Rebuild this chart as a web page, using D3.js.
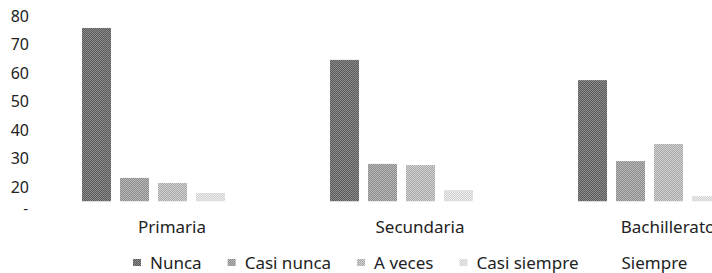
<!DOCTYPE html>
<html>
<head>
<meta charset="utf-8">
<script src="https://cdn.jsdelivr.net/npm/d3@7/dist/d3.min.js"></script>
<style>
  body { margin: 0; background: #fff; }
  svg { display: block; }
  text { font-family: "Noto Sans", sans-serif; fill: #222; }
</style>
</head>
<body>
<div id="chart"></div>
<script>
var categories = ["Primaria", "Secundaria", "Bachillerato"];
var series = ["Nunca", "Casi nunca", "A veces", "Casi siempre", "Siempre"];
var nunca = [75.8, 64.6, 57.5];
var casiNunca = [23.2, 28.1, 29.1];
var aVeces = [21.4, 27.7, 35.1];
var casiSiempre = [17.9, 18.9, 16.8];
var siempre = [15.0, 15.0, 15.0];
var yTicks = [20, 30, 40, 50, 60, 70, 80];
var baseValue = 15;
var baseLabel = "-";

var values = [nunca, casiNunca, aVeces, casiSiempre, siempre];

var width = 712, height = 273;
var svg = d3.select("#chart").append("svg")
    .attr("width", width)
    .attr("height", height);

// dithered grey fills, dark to light
var shades = [
  ["#5a5a5a", "#8c8c8c"],
  ["#8c8c8c", "#b8b8b8"],
  ["#a8a8a8", "#d2d2d2"],
  ["#d0d0d0", "#eeeeee"],
  ["#ffffff", "#ffffff"]
];
var defs = svg.append("defs");
shades.forEach(function (s, i) {
  var p = defs.append("pattern")
      .attr("id", "fill" + i)
      .attr("width", 2).attr("height", 2)
      .attr("patternUnits", "userSpaceOnUse");
  p.append("rect").attr("width", 2).attr("height", 2).attr("fill", s[0]);
  p.append("rect").attr("width", 1).attr("height", 1).attr("fill", s[1]);
  p.append("rect").attr("x", 1).attr("y", 1).attr("width", 1).attr("height", 1).attr("fill", s[1]);
});

var y = d3.scaleLinear().domain([10, 80]).range([215.5, 16]);
var x0 = d3.scaleBand().domain(categories).range([48, 792]);
var x1 = d3.scaleBand().domain(series).range([34, 215]).paddingInner(0.237);

// y axis labels
var yAxis = svg.append("g").attr("transform", "translate(29,0)")
    .call(d3.axisLeft(y).tickValues(yTicks).tickSize(0).tickPadding(0));
yAxis.select(".domain").remove();
yAxis.selectAll("text")
    .style("font-size", "16px")
    .attr("fill", "#222");
svg.append("text")
    .attr("x", 28).attr("y", y(baseValue) + 8)
    .attr("dy", "0.32em")
    .attr("text-anchor", "end")
    .style("font-size", "15px")
    .text(baseLabel);

// bars
var groups = svg.append("g").selectAll("g")
  .data(categories)
  .join("g")
    .attr("transform", function (d) { return "translate(" + x0(d) + ",0)"; });

groups.selectAll("rect")
  .data(function (c, ci) {
    return series.map(function (s, si) { return { s: s, i: si, v: values[si][ci] }; });
  })
  .join("rect")
    .attr("x", function (d) { return x1(d.s); })
    .attr("width", x1.bandwidth())
    .attr("y", function (d) { return y(d.v); })
    .attr("height", function (d) { return y(baseValue) - y(d.v); })
    .attr("fill", function (d) { return "url(#fill" + d.i + ")"; });

// category labels
svg.append("g").selectAll("text")
  .data(categories)
  .join("text")
    .attr("x", function (d) { return x0(d) + x0.bandwidth() / 2; })
    .attr("y", 233)
    .attr("text-anchor", "middle")
    .style("font-size", "17px")
    .text(function (d) { return d; });

// legend
var legend = svg.append("g");
var lx = 133;
series.forEach(function (s, i) {
  legend.append("rect")
      .attr("x", lx).attr("y", 259)
      .attr("width", 8).attr("height", 7)
      .attr("fill", "url(#fill" + i + ")");
  var t = legend.append("text")
      .attr("x", lx + 17).attr("y", 269)
      .style("font-size", "17px")
      .text(s);
  lx += 17 + t.node().getComputedTextLength() + 26;
});
</script>
</body>
</html>
